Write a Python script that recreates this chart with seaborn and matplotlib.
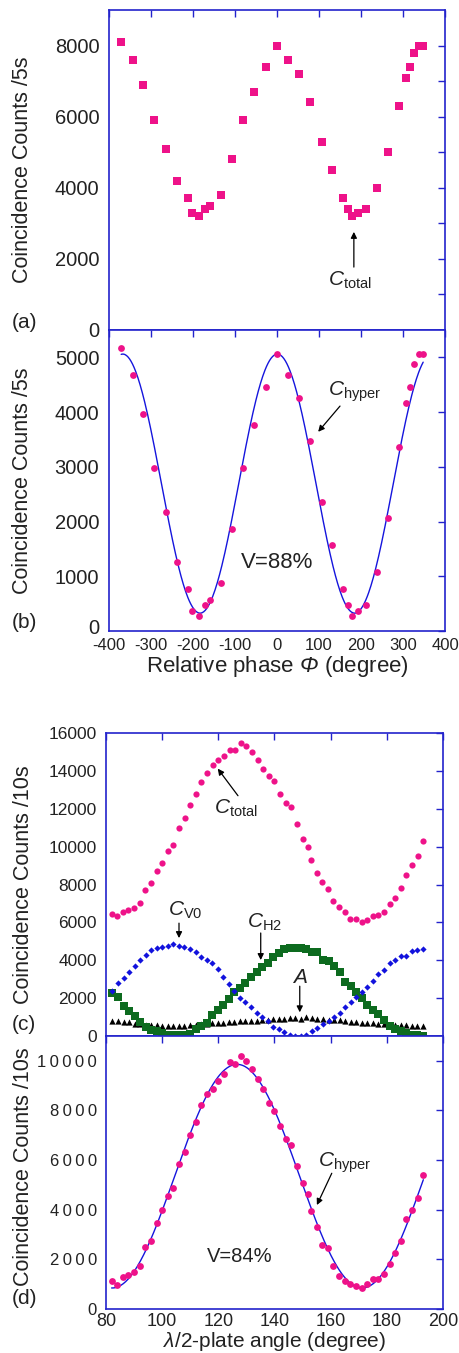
import numpy as np
import pandas as pd
import matplotlib
matplotlib.use("Agg")
import matplotlib.pyplot as plt
from matplotlib.ticker import FuncFormatter
from matplotlib.transforms import ScaledTranslation
import seaborn as sns

# (a)/(b): relative phase scan, counts per 5 s
phase = [-371, -344, -318, -292, -265, -239, -213, -202, -186, -171, -160, -133,
         -107, -80, -54, -27, 0, 26, 52, 79, 106, 132, 158, 168, 179, 194, 211,
         237, 264, 290, 306, 317, 327, 337, 348]
total_a = [8100, 7600, 6900, 5900, 5100, 4200, 3700, 3300, 3200, 3400, 3500, 3800,
           4800, 5900, 6700, 7400, 8000, 7600, 7200, 6400, 5300, 4500, 3700, 3400,
           3200, 3300, 3400, 4000, 5000, 6300, 7100, 7400, 7800, 8000, 8000]
hyper_b = [5170, 4670, 3970, 2970, 2170, 1270, 770, 370, 270, 470, 570, 870,
           1870, 2970, 3760, 4460, 5060, 4670, 4260, 3470, 2360, 1570, 770, 470,
           270, 370, 470, 1070, 2060, 3360, 4170, 4460, 4870, 5060, 5060]

# (c)/(d): half-wave plate scan, counts per 10 s
angle_total = list(range(82, 153, 2)) + list(range(153, 194, 2))
total_c = [6440, 6330, 6530, 6630, 6740, 7040, 7730, 8100, 8710, 9140, 9790, 10090,
           11010, 11500, 12190, 12790, 13390, 13900, 14290, 14590, 14780, 15100,
           15080, 15490, 15290, 14990, 14590, 14090, 13710, 13490, 12790, 12300,
           12100, 11180, 10390, 10000, 9280, 8610, 8110, 7740, 7140, 6790, 6560,
           6190, 6160, 6020, 6140, 6330, 6370, 6540, 6970, 7300, 7830, 8500, 9030,
           9510, 10300]
hyper_d = [1140, 970, 1290, 1370, 1500, 1740, 2480, 2740, 3460, 3970, 4560, 4880,
           5840, 6310, 7000, 7540, 8200, 8660, 8860, 9190, 9460, 9940, 9860, 10210,
           10000, 9680, 9250, 8860, 8320, 7980, 7380, 6830, 6600, 5760, 5060, 4620,
           3950, 3300, 2590, 2470, 1720, 1330, 1140, 1020, 940, 830, 990, 1220, 1210,
           1400, 1830, 2250, 2750, 3610, 4000, 4480, 5380]

angle_pol = np.linspace(82.3, 192.8, 57)
c_v0 = [2380, 2800, 3070, 3390, 3700, 4020, 4300, 4550, 4640, 4710, 4760, 4870,
        4750, 4710, 4590, 4450, 4160, 4020, 3850, 3530, 3140, 2720, 2350, 2030,
        1820, 1520, 1230, 990, 810, 490, 350, 190, 70, 20, 0, 70, 250, 420, 620,
        810, 1010, 1230, 1530, 1780, 2080, 2310, 2590, 2890, 3260, 3480, 3830,
        3990, 4220, 4230, 4480, 4530, 4570]
c_h2 = [2290, 2060, 1610, 1310, 1040, 720, 480, 340, 250, 160, 50, 30, 30, 70,
        120, 350, 510, 710, 1090, 1360, 1640, 1940, 2330, 2560, 2800, 3100, 3390,
        3650, 3830, 4180, 4390, 4620, 4670, 4670, 4670, 4570, 4450, 4410, 4040,
        3950, 3700, 3390, 2860, 2630, 2310, 2010, 1660, 1390, 1150, 860, 550, 390,
        250, 160, 70, 30, 0]
c_acc = [790, 790, 760, 720, 650, 650, 600, 580, 560, 550, 530, 530, 530, 550,
         560, 580, 620, 640, 670, 690, 710, 720, 740, 780, 790, 790, 810, 830, 860,
         880, 920, 920, 950, 970, 900, 990, 950, 920, 880, 860, 860, 830, 790, 760,
         720, 710, 690, 670, 650, 620, 560, 580, 580, 560, 550, 530, 530]

# fit periods
period_b = 368.0
period_d = 89.0

PINK = "#ee1289"
BLUE = "#2323cc"
LINE = "#1515dd"
GREEN = "#0d6b1f"
TEXT = "#222222"

sns.set_style("white")
plt.rcParams["font.family"] = ["Liberation Sans", "DejaVu Sans"]
plt.rcParams["mathtext.fontset"] = "custom"
plt.rcParams["mathtext.rm"] = "Liberation Sans"
plt.rcParams["mathtext.it"] = "Liberation Sans:italic"
plt.rcParams["mathtext.sf"] = "Liberation Sans:italic"
plt.rcParams["axes.unicode_minus"] = False
plt.rcParams["text.color"] = TEXT


def sine_fit(x, y, period, n=400):
    """Least-squares fit of offset + cosine with a fixed period."""
    x = np.asarray(x, float)
    y = np.asarray(y, float)
    k = 2 * np.pi / period
    basis = np.column_stack([np.ones_like(x), np.cos(k * x), np.sin(k * x)])
    coef, *_ = np.linalg.lstsq(basis, y, rcond=None)
    xs = np.linspace(x.min(), x.max(), n)
    ys = coef[0] + coef[1] * np.cos(k * xs) + coef[2] * np.sin(k * xs)
    return pd.DataFrame({"x": xs, "y": ys})


def style_axes(ax, ysize, xsize, ypad, xpad):
    for s in ax.spines.values():
        s.set_color(BLUE)
        s.set_linewidth(1.2)
    ax.tick_params(which="both", direction="in", top=True, right=True,
                   color=BLUE, width=1, length=5, labelcolor=TEXT)
    ax.tick_params(axis="y", pad=ypad, labelsize=ysize)
    ax.tick_params(axis="x", pad=xpad, labelsize=xsize)
    ax.grid(False)


def arrow(ax, head, tail):
    ax.annotate("", xy=head, xytext=tail,
                arrowprops=dict(arrowstyle="-|>", color="black", lw=0.9,
                                mutation_scale=9, shrinkA=0, shrinkB=0))


fig = plt.figure(figsize=(4.59, 13.53), dpi=100)
ax_a = fig.add_axes([0.2375, 0.7561, 0.732, 0.2365])
ax_b = fig.add_axes([0.2375, 0.5336, 0.732, 0.2225])
ax_c = fig.add_axes([0.2309, 0.2343, 0.7342, 0.2239])
ax_d = fig.add_axes([0.2309, 0.0325, 0.7342, 0.2018])

df_a = pd.DataFrame({"phase": phase, "counts": total_a})
df_b = pd.DataFrame({"phase": phase, "counts": hyper_b})
df_tot = pd.DataFrame({"angle": angle_total, "total": total_c, "hyper": hyper_d})
df_pol = pd.DataFrame({"angle": angle_pol, "v0": c_v0, "h2": c_h2, "acc": c_acc})

# (a)
sns.scatterplot(data=df_a, x="phase", y="counts", ax=ax_a, marker="s", s=27,
                color=PINK, linewidth=0)
ax_a.set_xlim(-400, 400)
ax_a.set_ylim(0, 9000)
ax_a.set_xticks(np.arange(-400, 401, 100))
ax_a.set_xticklabels([])
ax_a.set_yticks([0, 2000, 4000, 6000, 8000])
ax_a.set_yticks(np.arange(1000, 9000, 2000), minor=True)
style_axes(ax_a, 14.5, 12, 7, 4)
ax_a.set_xlabel("")
ax_a.set_ylabel("Coincidence Counts /5s", fontsize=15.5, color=TEXT)
ax_a.yaxis.set_label_coords(-0.225, 0.5)
ax_a.text(174, 1700, r"$C_{\mathrm{total}}$", fontsize=15, ha="center", va="top")
arrow(ax_a, (183, 2760), (183, 1770))

# (b)
sns.scatterplot(data=df_b, x="phase", y="counts", ax=ax_b, marker="o", s=24,
                color=PINK, linewidth=0, zorder=3)
fit_b = sine_fit(phase, hyper_b, period_b)
sns.lineplot(data=fit_b, x="x", y="y", ax=ax_b, color=LINE, lw=1, zorder=2)
ax_b.set_xlim(-400, 400)
ax_b.set_ylim(0, 5500)
ax_b.set_xticks(np.arange(-400, 401, 100))
ax_b.set_yticks(np.arange(0, 5001, 1000))
style_axes(ax_b, 14.5, 12, 7, 5)
# lift the "0" label a little, as in the original, so it clears the x labels
zero_lab = ax_b.get_yticklabels()[0]
zero_lab.set_transform(zero_lab.get_transform()
                       + ScaledTranslation(0, 3 / 72, fig.dpi_scale_trans))
ax_b.set_xlabel(r"Relative phase $\mathsf{Φ}$ (degree)", fontsize=16, color=TEXT,
                labelpad=1)
ax_b.set_ylabel("Coincidence Counts /5s", fontsize=15.5, color=TEXT)
ax_b.yaxis.set_label_coords(-0.225, 0.5)
ax_b.text(121, 4590, r"$C_{\mathrm{hyper}}$", fontsize=15, ha="left", va="top")
arrow(ax_b, (98, 3640), (150, 4110))
ax_b.text(0, 1260, "V=88%", fontsize=16, ha="center", va="center")

# (c)
sns.scatterplot(data=df_pol, x="angle", y="acc", ax=ax_c, marker="^", s=20,
                color="black", linewidth=0, zorder=2)
sns.scatterplot(data=df_pol, x="angle", y="h2", ax=ax_c, marker="s", s=32,
                color=GREEN, linewidth=0, zorder=3)
sns.scatterplot(data=df_pol, x="angle", y="v0", ax=ax_c, marker="D", s=10,
                color="#1212dd", linewidth=0, zorder=4)
sns.scatterplot(data=df_tot, x="angle", y="total", ax=ax_c, marker="o", s=20,
                color=PINK, linewidth=0, zorder=5)
ax_c.set_xlim(80, 200)
ax_c.set_ylim(0, 16000)
ax_c.set_xticks(np.arange(80, 201, 20))
ax_c.set_xticklabels([])
ax_c.set_yticks(np.arange(0, 16001, 2000))
style_axes(ax_c, 12.5, 12.5, 6.5, 3)
ax_c.set_xlabel("")
ax_c.set_ylabel("Coincidence Counts /10s", fontsize=15.5, color=TEXT)
ax_c.yaxis.set_label_coords(-0.215, 0.5)
ax_c.text(118.4, 12580, r"$C_{\mathrm{total}}$", fontsize=15, ha="left", va="top")
arrow(ax_c, (119.8, 14120), (127, 12690))
ax_c.text(102.1, 7180, r"$C_{\mathrm{V0}}$", fontsize=15, ha="left", va="top")
arrow(ax_c, (106, 5170), (106, 5960))
ax_c.text(130.2, 6560, r"$C_{\mathrm{H2}}$", fontsize=15, ha="left", va="top")
arrow(ax_c, (135.1, 4010), (135.1, 5440))
ax_c.text(149, 3570, r"$A$", fontsize=15, ha="center", va="top")
arrow(ax_c, (149, 1250), (149, 2630))

# (d)
sns.scatterplot(data=df_tot, x="angle", y="hyper", ax=ax_d, marker="o", s=24,
                color=PINK, linewidth=0, zorder=3)
fit_d = sine_fit(angle_total, hyper_d, period_d)
sns.lineplot(data=fit_d, x="x", y="y", ax=ax_d, color=LINE, lw=1, zorder=2)
ax_d.set_xlim(80, 200)
ax_d.set_ylim(0, 11000)
ax_d.set_xticks(np.arange(80, 201, 20))
ax_d.set_yticks(np.arange(0, 10001, 2000))
ax_d.yaxis.set_major_formatter(
    FuncFormatter(lambda v, pos: "\u2009".join(str(int(round(v))))))
style_axes(ax_d, 12, 13, 6.5, 3)
ax_d.set_xlabel(r"$\mathit{\lambda}$/2-plate angle (degree)", fontsize=15,
                color=TEXT, labelpad=0)
ax_d.set_ylabel("Coincidence Counts /10s", fontsize=15.5, color=TEXT)
ax_d.yaxis.set_label_coords(-0.215, 0.52)
ax_d.text(155.4, 6400, r"$C_{\mathrm{hyper}}$", fontsize=15, ha="left", va="top")
arrow(ax_d, (155.1, 4190), (160.4, 5470))
ax_d.text(127.7, 2130, "V=84%", fontsize=14.5, ha="center", va="center")

# panel letters
for label, ypix in [("(a)", 322), ("(b)", 622), ("(c)", 1025), ("(d)", 1299)]:
    fig.text(12 / 459, 1 - ypix / 1353, label, fontsize=15, color=TEXT,
             ha="left", va="center")

fig.savefig("out.png", dpi=100)
